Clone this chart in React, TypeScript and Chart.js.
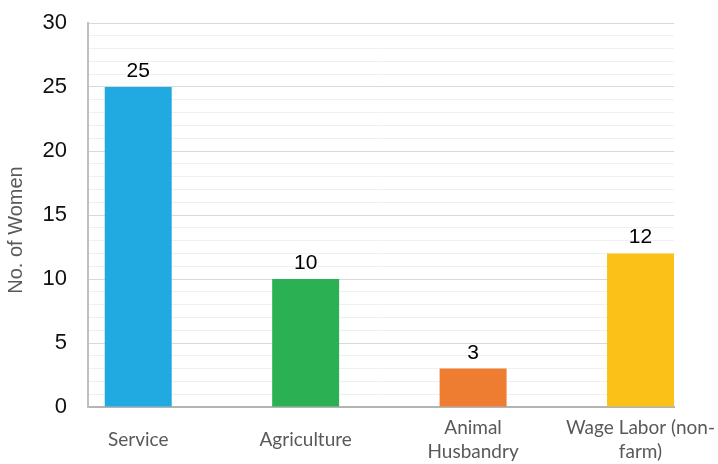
import React, { useEffect, useRef } from "react";
import { Chart, registerables } from "chart.js";

Chart.register(...registerables);

const categories: (string | string[])[] = [
  "Service",
  "Agriculture",
  ["Animal", "Husbandry"],
  ["Wage Labor (non-", "farm)"],
];
const womenCounts = [25, 10, 3, 12];
const barColors = ["#21a9e1", "#2bb154", "#ef7d31", "#fcc118"];
const yTickValues = [0, 5, 10, 15, 20, 25, 30];
const yAxisTitle = "No. of Women";

const dataLabelPlugin = {
  id: "dataLabels",
  afterDatasetsDraw(chart: any) {
    const ctx = chart.ctx;
    const meta = chart.getDatasetMeta(0);
    ctx.save();
    ctx.font = "21px 'Liberation Sans', Arial, sans-serif";
    ctx.fillStyle = "#000000";
    ctx.textAlign = "center";
    ctx.textBaseline = "alphabetic";
    meta.data.forEach((el: any, i: number) => {
      ctx.fillText(String(womenCounts[i]), el.x, el.y - 10);
    });
    ctx.restore();
  },
};

const yTitlePlugin = {
  id: "yTitle",
  afterDraw(chart: any) {
    const { ctx, chartArea } = chart;
    ctx.save();
    ctx.translate(16, (chartArea.top + chartArea.bottom) / 2 + 15);
    ctx.rotate(-Math.PI / 2);
    ctx.font = "20px 'Liberation Sans', Arial, sans-serif";
    ctx.fillStyle = "#595959";
    ctx.textAlign = "center";
    ctx.textBaseline = "middle";
    ctx.fillText(yAxisTitle, 0, 0);
    ctx.restore();
  },
};

export default function App() {
  const ref = useRef<HTMLCanvasElement>(null);
  useEffect(() => {
    document.body.style.margin = "0";
    const chart = new Chart(ref.current as HTMLCanvasElement, {
      type: "bar",
      data: {
        datasets: [
          {
            data: womenCounts.map((v, i) => ({ x: i, y: v })),
            backgroundColor: barColors,
            borderWidth: 0,
            barPercentage: 0.5,
            categoryPercentage: 0.8,
          },
        ],
      },
      options: {
        animation: false,
        responsive: false,
        maintainAspectRatio: false,
        layout: { padding: { top: 23, right: 44, bottom: 0, left: 0 } },
        plugins: { legend: { display: false }, tooltip: { enabled: false } },
        scales: {
          x: {
            type: "linear",
            offset: false,
            min: -0.3,
            max: 3.2,
            afterBuildTicks: (s: any) => {
              s.ticks = s.ticks.filter((t: any) => Number.isInteger(t.value));
            },
            afterFit: (s: any) => {
              s.height = 57;
              s.paddingLeft = 0;
              s.paddingRight = 0;
            },
            grid: { display: false, offset: false },
            border: { display: true, color: "#b4b4b4", width: 2 },
            ticks: {
              stepSize: 1,
              includeBounds: false,
              autoSkip: false,
              maxRotation: 0,
              crossAlign: "center",
              padding: 13,
              color: "#595959",
              font: { family: "Lato, 'Open Sans', sans-serif", size: 19, lineHeight: 1.25 },
              callback: (v: any) => (Number.isInteger(v) && categories[v] !== undefined ? categories[v] : ""),
            },
          },
          y: {
            min: 0,
            max: 30,
            afterFit: (s: any) => {
              s.width = 88;
              s.paddingTop = 0;
              s.paddingBottom = 0;
            },
            grid: {
              drawTicks: false,
              color: (c: any) => (yTickValues.includes(c.tick.value) ? "#d9d9d9" : "#f0f0f0"),
              lineWidth: 1,
            },
            border: { display: true, color: "#bfbfbf", width: 2 },
            ticks: {
              stepSize: 1,
              autoSkip: false,
              padding: 21,
              color: "#111111",
              font: { family: "'Liberation Sans', Arial, sans-serif", size: 22 },
              callback: (v: any) => (yTickValues.includes(v) ? String(v) : ""),
            },
          },
        },
      },
      plugins: [dataLabelPlugin, yTitlePlugin],
    });
    return () => chart.destroy();
  }, []);
  return (
    <div style={{ width: 718, height: 464 }}>
      <canvas ref={ref} width={718} height={464} style={{ display: "block" }} />
    </div>
  );
}
